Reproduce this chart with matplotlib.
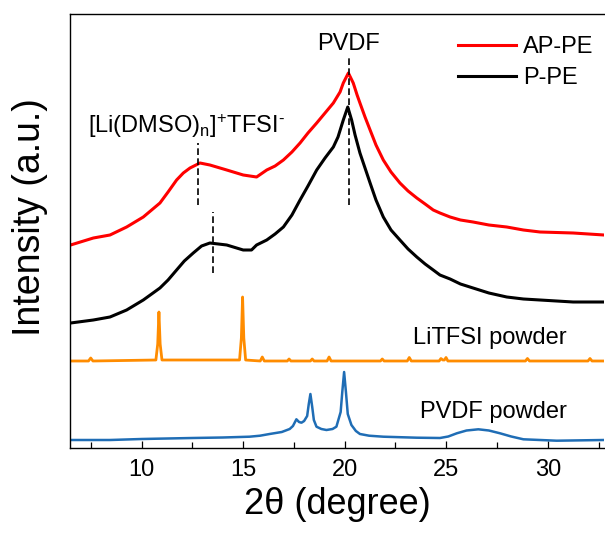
import matplotlib
matplotlib.use('Agg')
import matplotlib.pyplot as plt
from matplotlib.ticker import MultipleLocator

plt.rcParams['font.family'] = ['Liberation Sans', 'DejaVu Sans']
plt.rcParams['mathtext.fontset'] = 'custom'
plt.rcParams['mathtext.rm'] = 'Liberation Sans'
plt.rcParams['mathtext.it'] = 'Liberation Sans:italic'

# ---- data (2theta in degree, intensity in arbitrary offset units) ----
ap_x = [6.50, 7.62, 8.44, 9.26, 10.08, 10.90, 11.30, 11.72, 12.05, 12.38, 12.87, 13.36,
        14.19, 15.00, 15.66, 16.16, 16.57, 16.98, 17.40, 17.80, 18.19, 18.62, 19.03,
        19.44, 19.77, 19.93, 20.18, 20.42, 20.61, 20.75, 21.00, 21.25, 21.54, 21.90,
        22.28, 22.72, 23.12, 23.55, 23.96, 24.36, 24.69, 25.19, 25.70, 26.32, 27.10,
        27.98, 28.80, 29.62, 31.25, 32.77]
ap_y = [203, 210, 213, 221, 231, 245, 256, 268, 275, 280, 285, 283,
        278, 273, 271, 278, 282, 288, 296, 305, 315, 325, 335,
        345, 356, 365, 375, 365, 353, 345, 331, 318, 303, 288,
        276, 265, 257, 250, 244, 238, 235, 231, 228, 226, 223,
        221, 218, 216, 215, 213]

p_x = [6.50, 7.62, 8.44, 9.26, 10.08, 10.90, 11.30, 11.72, 12.10, 12.54, 12.95, 13.36,
       14.19, 15.00, 15.41, 15.66, 16.16, 16.57, 16.98, 17.40, 17.80, 18.19, 18.62,
       19.03, 19.44, 19.67, 19.93, 20.15, 20.34, 20.51, 20.75, 21.00, 21.25, 21.54,
       21.90, 22.28, 22.72, 23.12, 23.55, 23.96, 24.36, 24.69, 25.19, 25.70, 26.32,
       27.10, 27.98, 28.80, 29.62, 31.25, 32.77]
p_y = [125, 128, 131, 138, 148, 160, 168, 178, 187, 195, 202, 205,
       203, 198, 198, 203, 208, 214, 221, 233, 248, 262, 278,
       290, 301, 311, 328, 341, 328, 313, 295, 280, 265, 248,
       231, 218, 208, 199, 191, 184, 178, 173, 169, 164, 160,
       155, 151, 149, 148, 146, 146]

litfsi_x = [6.47, 7.38, 7.49, 7.60,
            10.70, 10.79, 10.85, 10.91, 11.00,
            14.82, 14.91, 14.97, 15.03, 15.12,
            15.84, 15.94, 16.04, 17.17, 17.26, 17.35, 18.31, 18.40, 18.49,
            19.13, 19.23, 19.33, 21.76, 21.85, 21.94, 23.08, 23.18, 23.28,
            24.65, 24.74, 24.83, 24.91, 24.99, 25.08, 28.90, 29.00, 29.10,
            31.98, 32.08, 32.18, 32.77]
litfsi_y = [87, 87, 90, 87,
            88, 104, 136, 104, 88,
            88, 110, 151, 110, 88,
            87, 91, 87, 87, 89, 87, 87, 89, 87,
            87, 91, 87, 87, 89, 87, 87, 90.5, 87,
            87, 89.5, 88, 88, 90.5, 87, 87, 89.5, 87,
            87, 89.5, 87, 87]

pvdf_x = [6.47, 8.44, 10.0, 12.5, 14.0, 15.31, 15.83, 16.30, 16.90, 17.29, 17.45, 17.62,
          17.75, 17.87, 18.00, 18.15, 18.23, 18.31, 18.40, 18.48, 18.61, 18.85, 19.10,
          19.40, 19.59, 19.80, 19.88, 19.97, 20.06, 20.15, 20.33, 20.55, 20.75, 21.20,
          21.90, 23.55, 24.69, 25.10, 25.52, 26.00, 26.58, 27.10, 27.65, 28.20, 28.80,
          30.44, 32.77]
pvdf_y = [8, 8, 9, 10, 10.5, 11.3, 12.3, 14, 16, 19, 22, 28.7,
          26, 25.3, 27, 32, 44, 54, 41, 28, 21.3, 19, 18,
          19, 21.3, 36, 56, 76, 56, 34, 23, 17, 14, 12.3,
          11.3, 10.3, 10, 11.5, 14.7, 17.5, 18.7, 17.5, 14.7, 11.5, 8.7,
          7.3, 8]

# reference peak markers (x position, y from, y to)
mark_x = [20.19, 12.79, 13.53]
mark_y0 = [243, 243, 175]
mark_y1 = [393, 305, 236]

fig = plt.figure(figsize=(6.05, 5.34), dpi=100)
ax = fig.add_axes([70/605, 86/534, 534/605, 434/534])

ax.plot(pvdf_x, pvdf_y, color='#1f6db5', lw=1.8)
ax.plot(litfsi_x, litfsi_y, color='#ff8c00', lw=2.0)
ax.plot(ap_x, ap_y, color='#ff0000', lw=2.2, label='AP-PE')
ax.plot(p_x, p_y, color='#000000', lw=2.2, label='P-PE')

for mx, y0, y1 in zip(mark_x, mark_y0, mark_y1):
    ax.plot([mx, mx], [y0, y1], color='black', lw=1.2, ls=(0, (4, 2)))

ax.set_xlim(6.47, 32.77)
ax.set_ylim(0, 434)
ax.xaxis.set_major_locator(MultipleLocator(5))
ax.xaxis.set_minor_locator(MultipleLocator(2.5))
ax.tick_params(axis='x', which='major', direction='in', length=5, width=0.9,
               labelsize=17, pad=8, top=False)
ax.tick_params(axis='x', which='minor', direction='in', length=4, width=0.9, top=False)
ax.set_yticks([])
for s in ['left', 'bottom', 'top']:
    ax.spines[s].set_linewidth(1.0)
ax.spines['right'].set_visible(False)

ax.set_xlabel('2θ (degree)', fontsize=26, labelpad=4)
fig.text(30/605, 1 - 217/534, 'Intensity (a.u.)', rotation=90, fontsize=27,
         ha='center', va='center')

ax.text(20.21, 404, 'PVDF', fontsize=17, ha='center', va='center')
ax.text(7.34, 315, '[Li(DMSO)$_\\mathregular{n}$]$^\\mathregular{+}$TFSI$^\\mathregular{\u2010}$',
        fontsize=17, ha='left', va='baseline')
ax.text(23.37, 104, 'LiTFSI powder', fontsize=17, ha='left', va='baseline')
ax.text(23.71, 30, 'PVDF powder', fontsize=17, ha='left', va='baseline')

ax.legend(loc='upper right', frameon=False, fontsize=17, handlelength=2.45,
          handletextpad=0.3, labelspacing=0.37, borderaxespad=0.0,
          bbox_to_anchor=(1.0 - 1/534, 1.0 - 13/434))

fig.savefig('out.png', dpi=100)
